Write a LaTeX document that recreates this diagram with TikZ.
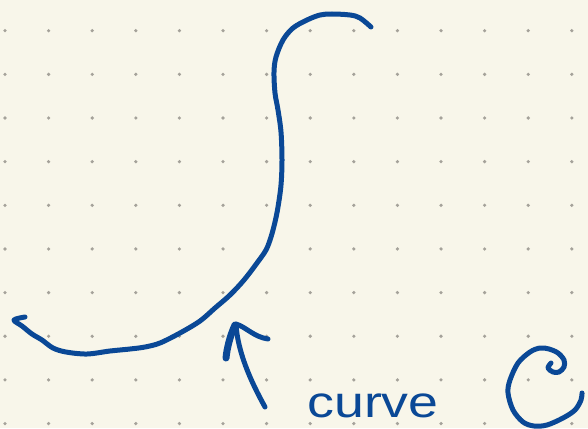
\documentclass[tikz,border=0pt]{standalone}
\usepackage{fontspec}
\setmainfont{Liberation Sans}
\definecolor{paper}{RGB}{248,246,234}
\definecolor{dotgray}{RGB}{165,162,154}
\definecolor{inkblue}{RGB}{10,72,150}
\tikzset{
  ink/.style={draw=inkblue, line width=5pt, line cap=round, line join=round},
  griddot/.style={fill=dotgray, draw=none}
}
\begin{document}
\begin{tikzpicture}[x=1pt, y=-1pt]
  % paper
  \fill[paper] (0,0) rectangle (588,428);
  \useasboundingbox (0,0) rectangle (588,428);
  % dotted grid
  \foreach \i in {0,...,13} {
    \foreach \j in {0,...,9} {
      \fill[griddot] ({5+43.6*\i},{30.7+43.65*\j}) circle (1.8);
    }
  }
  % the long curve
  \draw[ink] plot[smooth, tension=0.55] coordinates {
    (371,27) (360,18) (350,15) (332,14) (320,15) (307,20) (293,28) (283,40)
    (276,57) (274,72) (275,93) (278,110) (281,132) (282,160) (281,185)
    (278,207) (275,222) (271,237) (266,250) (257,263) (244,280) (230,295)
    (215,308) (200,321) (180,333) (160,343) (145,347) (130,349) (110,351)
    (87,354) (66,352) (53,348) (42,340) (32,334) (22,326) (14,320) (25,317)};
  % arrow pointing at the curve
  \draw[ink] (265,407) .. controls (250,380) and (238,352) .. (236,325);
  \draw[ink, line width=7pt] (235,325) .. controls (230,336) and (227,348) .. (226,358);
  \draw[ink] (236,324) .. controls (246,327) and (254,337) .. (268,339);
  % label
  \node[text=inkblue, font=\fontsize{44}{48}\selectfont, inner sep=0pt] (lbl) at (373,406)
    {\scalebox{1.22}[1]{curve}};
  % curl
  \draw[ink] plot[smooth, tension=0.55] coordinates {
    (551,363) (548,368) (553,372) (559,372) (564,367) (564,360) (558,353)
    (549,349) (540,348) (530,352) (518,363) (510,380) (508,393) (513,410)
    (523,422) (534,426) (547,425) (563,418) (575,410) (581,400) (582,393)};
\end{tikzpicture}
\end{document}
